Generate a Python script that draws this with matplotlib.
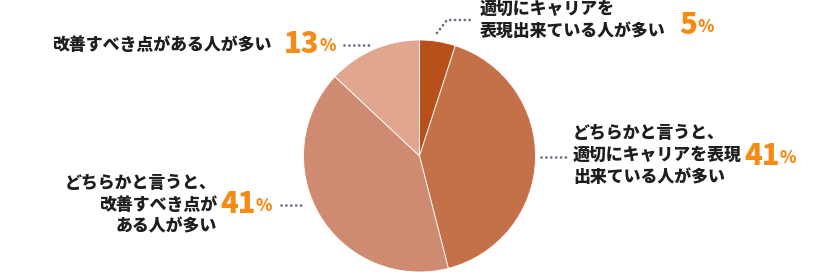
import matplotlib.pyplot as plt

plt.rcParams['font.family'] = ['Noto Sans CJK JP', 'DejaVu Sans']

labels = ["適切にキャリアを\n表現出来ている人が多い",
          "どちらかと言うと、\n適切にキャリアを表現\n出来ている人が多い",
          "どちらかと言うと、\n改善すべき点が\nある人が多い",
          "改善すべき点がある人が多い"]
values = [5, 41, 41, 13]
colors = ["#b8501c", "#c4714a", "#ce8b72", "#e0a68e"]

W, H = 840, 272
fig = plt.figure(figsize=(8.4, 2.72), dpi=100)
ax = fig.add_axes([0, 0, 1, 1])

cx, cy, r = 419.5, H - 156, 116
ax.pie(values, colors=colors, startangle=90, counterclock=False,
       center=(cx, cy), radius=r, frame=True,
       wedgeprops=dict(edgecolor='white', linewidth=0.6))
ax.set_xlim(0, W)
ax.set_ylim(0, H)
ax.set_aspect('equal')
ax.axis('off')

txt = dict(fontsize=12.2, fontweight='heavy', color='#1e1e1e', linespacing=1.25)
num = dict(fontsize=21, fontweight='heavy', color='#f58a14')
pct = dict(fontsize=12, fontweight='heavy', color='#f58a14')
dot = dict(color='#6b6f80', linewidth=2.0, linestyle=(0, (0.01, 1.75)),
           dash_capstyle='round')

def y(p):
    return H - p

def percent(x, yy, v):
    t = ax.text(x, y(yy), str(v), ha='left', va='center', **num)
    fig.canvas.draw()
    bb = t.get_window_extent()
    x1 = ax.transData.inverted().transform((bb.x1, 0))[0]
    ax.text(x1 + 0.5, y(yy + 2), "%", ha='left', va='center', **pct)

# 5%
ax.text(480, y(20), labels[0], ha='left', va='center', **txt)
percent(679, 25, values[0])
ax.plot([437, 447, 473], [y(33), y(20), y(20)], **dot)

# 41% right
ax.text(573, y(155), labels[1], ha='left', va='center', **txt)
percent(744, 156, values[1])
ax.plot([541, 567], [y(157), y(157)], **dot)

# 41% left
ax.text(217, y(205), labels[2], ha='right', va='center', multialignment='right', **txt)
percent(220, 204, values[2])
ax.plot([281, 305], [y(205), y(205)], **dot)

# 13%
ax.text(52, y(45), labels[3], ha='left', va='center', **txt)
percent(284, 44, values[3])
ax.plot([344, 370], [y(45), y(45)], **dot)

fig.savefig("out.png", dpi=100)
